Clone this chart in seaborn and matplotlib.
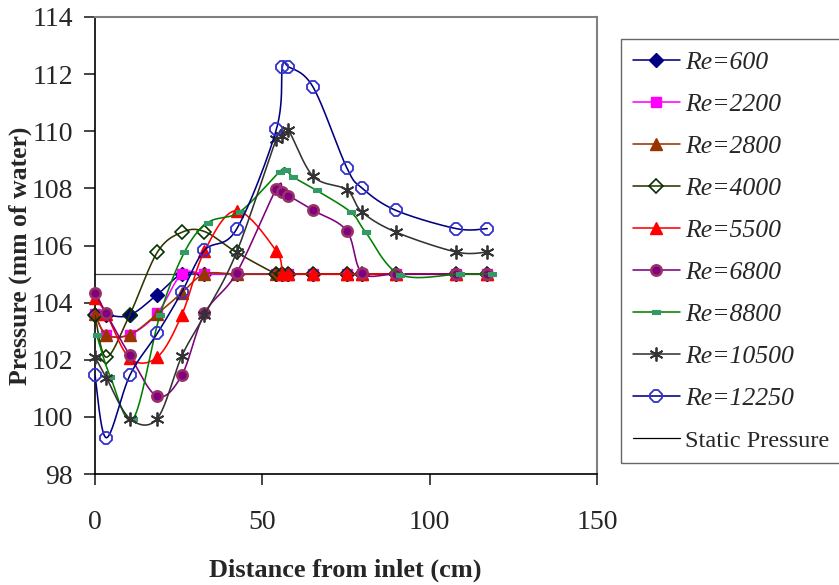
import numpy as np
import pandas as pd
import matplotlib
matplotlib.use("Agg")
import matplotlib.pyplot as plt
from matplotlib.lines import Line2D
import seaborn as sns

sns.set_style("white")
plt.rcParams['font.family'] = ['Liberation Serif', 'DejaVu Serif']

# ---------------- data ----------------
X = [0, 3.4, 10.4, 18.6, 25.9, 32.7, 42.3, 54.2, 56.0, 57.8, 65.2, 75.2, 79.8, 89.9, 108.0, 117.2]
X_8800 = [0.5, 4.6, 11.4, 19.4, 26.7, 33.7, 43.4, 55.2, 57.1, 59.2, 66.2, 76.4, 80.9, 91.2, 109.2, 118.5]

re600 = [103.56, 103.56, 103.56, 104.28, 105.0, 105.0, 105.0, 105.0, 105.0, 105.0, 105.0, 105.0, 105.0, 105.0, 105.0, 105.0]
re2200 = [103.6, 102.88, 102.88, 103.62, 105.0, 105.0, 105.0, 105.0, 105.0, 105.0, 105.0, 105.0, 105.0, 105.0, 105.0, 105.0]
re2800 = [103.6, 102.88, 102.88, 103.6, 104.34, 105.0, 105.0, 105.0, 105.0, 105.0, 105.0, 105.0, 105.0, 105.0, 105.0, 105.0]
re4000 = [103.56, 102.09, 103.58, 105.76, 106.46, 106.49, 105.76, 105.0, 105.0, 105.0, 105.0, 105.0, 105.0, 105.0, 105.0, 105.0]
re5500 = [104.17, 103.6, 102.05, 102.09, 103.56, 105.8, 107.22, 105.8, 105.0, 105.0, 105.0, 105.0, 105.0, 105.0, 105.0, 105.0]
re6800 = [104.34, 103.62, 102.15, 100.72, 101.45, 103.62, 105.04, 107.99, 107.87, 107.75, 107.23, 106.52, 105.04, 105.0, 105.0, 105.0]
re8800 = [102.87, 101.4, 99.94, 103.56, 105.76, 106.8, 107.19, 108.59, 108.65, 108.4, 107.93, 107.17, 106.46, 104.98, 105.0, 105.0]
re10500 = [102.09, 101.37, 99.94, 99.94, 102.12, 103.56, 105.76, 109.73, 109.85, 110.03, 108.42, 107.95, 107.17, 106.47, 105.77, 105.77]
re12250 = [101.45, 99.27, 101.45, 102.92, 104.36, 105.83, 106.57, 110.07, 112.26, 112.26, 111.54, 108.73, 108.01, 107.23, 106.59, 106.59]

static_x = [0, 117.2]
static_y = [105.0, 105.0]

labels = ["Re=600", "Re=2200", "Re=2800", "Re=4000", "Re=5500",
          "Re=6800", "Re=8800", "Re=10500", "Re=12250"]
xs_list = [X, X, X, X, X, X, X_8800, X, X]
ys_list = [re600, re2200, re2800, re4000, re5500, re6800, re8800, re10500, re12250]

rect = [(-1, -0.55), (1, -0.55), (1, 0.55), (-1, 0.55), (-1, -0.55)]
styles = [
    dict(lc="#000080", m="D", ms=7, mfc="#000080", mec="#000080", mew=1.0),
    dict(lc="#FF00FF", m="s", ms=7, mfc="#FF00FF", mec="#FF00FF", mew=1.0),
    dict(lc="#993300", m="^", ms=8, mfc="#993300", mec="#993300", mew=1.0),
    dict(lc="#333300", m="D", ms=7, mfc="none", mec="#003300", mew=1.2),
    dict(lc="#FF0000", m="^", ms=8.5, mfc="#FF0000", mec="#FF0000", mew=1.0),
    dict(lc="#800080", m="o", ms=7.5, mfc="#800080", mec="#993366", mew=1.8),
    dict(lc="#008000", m=rect, ms=6, mfc="#339966", mec="#339966", mew=0.8),
    dict(lc="#333333", m=(6, 2, 0), ms=10, mfc="#333333", mec="#333333", mew=1.3),
    dict(lc="#000080", m="8", ms=9, mfc="none", mec="#3333CC", mew=1.3),
]


def smooth(xs, ys, n=24):
    P = np.column_stack([xs, ys]).astype(float)
    k = len(P)
    out = [P[0]]
    for i in range(k - 1):
        p0 = P[i - 1] if i > 0 else P[i]
        p1 = P[i]
        p2 = P[i + 1]
        p3 = P[i + 2] if i + 2 < k else P[i + 1]
        c1 = p1 + (p2 - p0) / 6.0
        c2 = p2 - (p3 - p1) / 6.0
        t = np.linspace(0, 1, n)[1:, None]
        seg = ((1 - t) ** 3) * p1 + 3 * ((1 - t) ** 2) * t * c1 + 3 * (1 - t) * t ** 2 * c2 + t ** 3 * p2
        out.extend(seg)
    out = np.array(out)
    return out[:, 0], out[:, 1]


W, H = 839, 585
fig = plt.figure(figsize=(W / 100, H / 100), dpi=100)
L, R, T, B = 95, 597, 17, 474
ax = fig.add_axes([L / W, 1 - B / H, (R - L) / W, (B - T) / H])

# static pressure line
sns.lineplot(x=static_x, y=static_y, color="#404040", lw=0.9, ax=ax, zorder=1, legend=False)

handles = []
for i, (lab, xs, ys, st) in enumerate(zip(labels, xs_list, ys_list, styles)):
    sx, sy = smooth(xs, ys)
    sns.lineplot(x=sx, y=sy, sort=False, estimator=None, color=st["lc"], lw=1.15,
                 ax=ax, zorder=2 + 2 * i, legend=False)
    ax.plot(xs, ys, linestyle="none", marker=st["m"], markersize=st["ms"],
            markerfacecolor=st["mfc"], markeredgecolor=st["mec"], markeredgewidth=st["mew"],
            zorder=3 + 2 * i, clip_on=False)
    handles.append(Line2D([], [], color=st["lc"], lw=1.15, marker=st["m"],
                          markersize=st["ms"], markerfacecolor=st["mfc"],
                          markeredgecolor=st["mec"], markeredgewidth=st["mew"], label=lab))
handles.append(Line2D([], [], color="#000000", lw=0.9, label="Static Pressure"))

ax.set_xlim(0, 150)
ax.set_ylim(98, 114)
ax.set_xticks([0, 50, 100, 150])
ax.set_yticks(np.arange(98, 115, 2))

for s in ["left", "bottom"]:
    ax.spines[s].set_color("black")
    ax.spines[s].set_linewidth(1.2)
for s in ["top", "right"]:
    ax.spines[s].set_color("#808080")
    ax.spines[s].set_linewidth(1.5)

ax.tick_params(axis="y", direction="out", length=8, width=1.2, pad=8, labelsize=20,
               left=True, right=False)
ax.tick_params(axis="x", direction="out", length=8, width=1.2, pad=18, labelsize=20,
               bottom=True, top=False)

ax.set_xlabel("Distance from inlet (cm)", fontsize=19, fontweight="bold")
ax.set_ylabel("Pressure (mm of water)", fontsize=18.5, fontweight="bold")
ax.xaxis.label.set_va("center")
ax.yaxis.label.set_va("center")
ax.xaxis.set_label_coords((345.5 - L) / (R - L), -(570 - B) / (B - T))
ax.yaxis.set_label_coords((20.5 - L) / (R - L), 1 - (256 - T) / (B - T))

leg = fig.legend(handles=handles, loc="upper left", bbox_to_anchor=(621 / W, 1 - 39 / H),
                 borderaxespad=0, frameon=True, fancybox=False, shadow=False,
                 fontsize=18.5, handlelength=1.85, handletextpad=0.2, labelspacing=0.74,
                 borderpad=0.45)
leg.get_frame().set_edgecolor("#404040")
leg.get_frame().set_linewidth(1.0)
for t in leg.get_texts():
    if t.get_text().startswith("Re"):
        t.set_style("italic")
    else:
        t.set_fontsize(17.5)

fig.savefig("out.png", dpi=100)
